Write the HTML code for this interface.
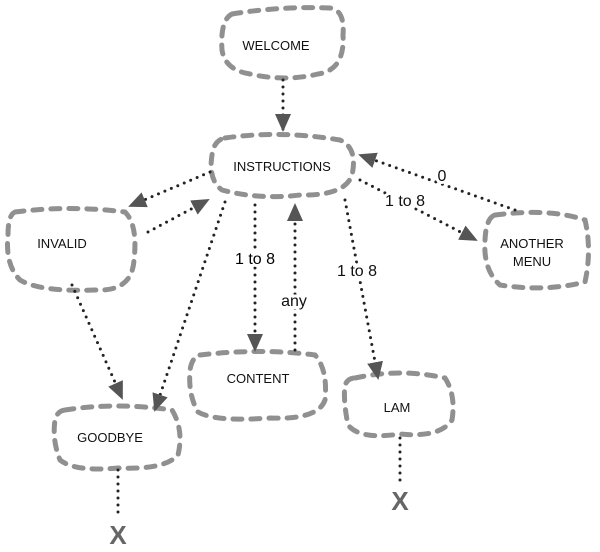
<!DOCTYPE html>
<html><head><style>body{margin:0;background:#fff}svg{display:block}</style></head><body>
<svg width="600" height="552" viewBox="0 0 600 552" xmlns="http://www.w3.org/2000/svg">
<defs>
<marker id="a" markerWidth="10" markerHeight="10" refX="8" refY="5" orient="auto" markerUnits="userSpaceOnUse" viewBox="0 0 10 10">
<path d="M0,0 L10,5 L0,10 z" fill="#555"/></marker>
<marker id="b" markerWidth="18" markerHeight="18" refX="16" refY="9" orient="auto" markerUnits="userSpaceOnUse" viewBox="0 0 18 18">
<path d="M0,1 L18,9 L0,17 z" fill="#555"/></marker>
</defs>
<g fill="none" stroke="#909090" stroke-width="5" stroke-dasharray="9 9" stroke-linecap="round">
<path d="M232,14 Q280,6 330,8 Q345,10 343,35 Q345,70 318,74 Q285,82 250,74 Q225,70 222,50 Q220,20 232,14 z"/>
<path d="M225,138 Q280,130 340,140 Q358,148 352,175 Q345,196 300,195 Q260,200 222,190 Q208,180 212,155 Q214,140 225,138 z"/>
<path d="M15,212 Q70,205 125,212 Q138,225 134,260 Q132,292 95,290 Q40,292 20,280 Q5,265 8,235 Q8,215 15,212 z"/>
<path d="M495,215 Q550,208 585,220 Q592,250 585,282 Q545,292 500,285 Q483,270 485,240 Q486,218 495,215 z"/>
<path d="M200,355 Q260,348 315,355 Q328,370 325,400 Q318,420 270,418 Q215,422 198,412 Q188,395 190,370 Q192,357 200,355 z"/>
<path d="M355,378 Q400,368 445,378 Q456,395 452,420 Q440,438 400,434 Q360,440 348,425 Q343,400 345,385 Q348,378 355,378 z"/>
<path d="M65,410 Q115,402 172,410 Q184,430 178,455 Q165,470 118,468 Q75,472 60,460 Q52,440 55,420 Q57,411 65,410 z"/>
</g>
<g fill="none" stroke="#222" stroke-width="3" stroke-dasharray="0 7" stroke-linecap="round">
<path d="M283,80 L283,130" marker-end="url(#b)"/>
<path d="M210,172 L130,206" marker-end="url(#b)"/>
<path d="M148,232 L208,200" marker-end="url(#b)"/>
<path d="M225,202 L155,410" marker-end="url(#b)"/>
<path d="M72,285 L122,398" marker-end="url(#b)"/>
<path d="M255,205 L255,350" marker-end="url(#b)"/>
<path d="M295,350 L295,205" marker-end="url(#b)"/>
<path d="M345,200 L378,378" marker-end="url(#b)"/>
<path d="M515,210 L360,155" marker-end="url(#b)"/>
<path d="M360,180 L476,240" marker-end="url(#b)"/>
<path d="M118,470 L118,518"/>
<path d="M400,438 L400,486"/>
</g>
<g font-family="Liberation Sans, sans-serif" font-size="13" fill="#111" text-anchor="middle">
<text x="276" y="50">WELCOME</text>
<text x="282" y="171">INSTRUCTIONS</text>
<text x="62" y="248">INVALID</text>
<text x="532" y="248">ANOTHER</text>
<text x="532" y="266">MENU</text>
<text x="258" y="383">CONTENT</text>
<text x="397" y="412">LAM</text>
<text x="110" y="442">GOODBYE</text>
</g>
<g font-family="Liberation Sans, sans-serif" font-size="16" fill="#111" text-anchor="middle">
<text x="255" y="264" fill="#000" stroke="#fff" stroke-width="6" paint-order="stroke">1 to 8</text>
<text x="294" y="306" stroke="#fff" stroke-width="6" paint-order="stroke">any</text>
<text x="357" y="276" stroke="#fff" stroke-width="6" paint-order="stroke">1 to 8</text>
<text x="442" y="181" stroke="#fff" stroke-width="6" paint-order="stroke">0</text>
<text x="405" y="206" stroke="#fff" stroke-width="6" paint-order="stroke">1 to 8</text>
</g>
<g font-family="Liberation Sans, sans-serif" font-size="26" font-weight="bold" fill="#666" text-anchor="middle">
<text x="118" y="544">X</text>
<text x="400" y="510">X</text>
</g>
</svg>
</body></html>
